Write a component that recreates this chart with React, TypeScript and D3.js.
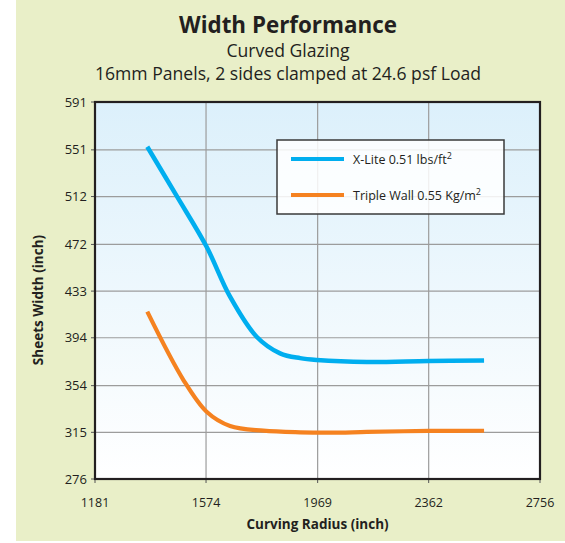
import React, { useEffect, useRef } from "react";
import * as d3 from "d3";

// curving radius (inch)
const xliteRadius = [1366, 1470, 1576, 1659, 1753, 1836, 1907, 1966, 2143, 2361, 2558];
const xliteWidth = [553.6, 512.5, 470, 428.3, 394.9, 381, 377, 375.5, 373.8, 374.6, 375];

const tripleRadius = [1366, 1494, 1576, 1659, 1777, 1907, 2013, 2143, 2361, 2558];
const tripleWidth = [415.8, 358.7, 332.2, 320.3, 316.4, 315, 314.7, 315.3, 316.2, 316.3];

const xTicks = [1181, 1574, 1969, 2362, 2756];
const yTicks = [276, 315, 354, 394, 433, 472, 512, 551, 591];

const W = 565;
const H = 543;
const FONT = "'Open Sans', 'DejaVu Sans', sans-serif";

export default function App() {
  const ref = useRef<SVGSVGElement | null>(null);

  useEffect(() => {
    const svg = d3.select(ref.current);
    svg.selectAll("*").remove();

    const left = 95, right = 540, top = 102, bottom = 479;

    const x = d3.scaleLinear().domain([1181, 2756]).range([left, right]);
    const y = d3.scaleLinear().domain([276, 591]).range([bottom, top]);

    // page background
    svg.append("rect")
      .attr("x", 16).attr("y", 0)
      .attr("width", W - 16).attr("height", 541)
      .attr("fill", "#e9efc8");

    const defs = svg.append("defs");
    const grad = defs.append("linearGradient")
      .attr("id", "plotbg").attr("x1", 0).attr("y1", 0).attr("x2", 0).attr("y2", 1);
    grad.append("stop").attr("offset", "0%").attr("stop-color", "#dcf0fb");
    grad.append("stop").attr("offset", "100%").attr("stop-color", "#ffffff");

    svg.append("rect")
      .attr("x", left).attr("y", top)
      .attr("width", right - left).attr("height", bottom - top)
      .attr("fill", "url(#plotbg)");

    // titles
    const titles = svg.append("g").attr("text-anchor", "middle").attr("fill", "#231f20")
      .style("font-family", FONT);
    titles.append("text").attr("x", 288).attr("y", 33)
      .style("font-size", "22.4px").style("font-weight", "bold").text("Width Performance");
    titles.append("text").attr("x", 288).attr("y", 57)
      .style("font-size", "17.6px").text("Curved Glazing");
    titles.append("text").attr("x", 288).attr("y", 80)
      .style("font-size", "17.6px").text("16mm Panels, 2 sides clamped at 24.6 psf Load");

    // grid
    const grid = svg.append("g").attr("stroke", "#9c9c9c").attr("stroke-width", 1.2);
    yTicks.slice(1, -1).forEach(v => {
      grid.append("line").attr("x1", left).attr("x2", right).attr("y1", y(v)).attr("y2", y(v));
    });
    xTicks.slice(1, -1).forEach(v => {
      grid.append("line").attr("y1", top).attr("y2", bottom).attr("x1", x(v)).attr("x2", x(v));
    });

    // ticks + labels
    const axes = svg.append("g").style("font-family", FONT).attr("fill", "#231f20");
    yTicks.forEach(v => {
      axes.append("line").attr("x1", left - 4).attr("x2", left).attr("y1", y(v)).attr("y2", y(v))
        .attr("stroke", "#555").attr("stroke-width", 1);
      axes.append("text").attr("x", left - 8).attr("y", y(v)).attr("dy", "0.35em")
        .attr("text-anchor", "end").style("font-size", "13px").text(v);
    });
    xTicks.forEach(v => {
      axes.append("line").attr("x1", x(v)).attr("x2", x(v)).attr("y1", bottom).attr("y2", bottom + 4)
        .attr("stroke", "#555").attr("stroke-width", 1);
      axes.append("text").attr("x", x(v)).attr("y", 507)
        .attr("text-anchor", "middle").style("font-size", "12.5px").text(v);
    });
    axes.append("text").attr("x", (left + right) / 2).attr("y", 529)
      .attr("text-anchor", "middle").style("font-size", "13.5px").style("font-weight", "bold")
      .text("Curving Radius (inch)");
    axes.append("text")
      .attr("transform", "translate(43,300) rotate(-90)")
      .attr("text-anchor", "middle").style("font-size", "13.5px").style("font-weight", "bold")
      .text("Sheets Width (inch)");

    // plot frame
    svg.append("rect")
      .attr("x", left).attr("y", top)
      .attr("width", right - left).attr("height", bottom - top)
      .attr("fill", "none").attr("stroke", "#231f20").attr("stroke-width", 2.2);

    const line = d3.line<[number, number]>()
      .x(d => x(d[0]))
      .y(d => y(d[1]))
      .curve(d3.curveCatmullRom.alpha(0.5));

    svg.append("path")
      .attr("d", line(xliteRadius.map((r, i) => [r, xliteWidth[i]] as [number, number])))
      .attr("fill", "none").attr("stroke", "#00aeef").attr("stroke-width", 4.5);

    svg.append("path")
      .attr("d", line(tripleRadius.map((r, i) => [r, tripleWidth[i]] as [number, number])))
      .attr("fill", "none").attr("stroke", "#f58220").attr("stroke-width", 4.2);

    // legend
    const lg = svg.append("g").style("font-family", FONT);
    lg.append("rect")
      .attr("x", 277).attr("y", 140).attr("width", 227).attr("height", 74)
      .attr("fill", "#ffffff").attr("fill-opacity", 0.85)
      .attr("stroke", "#3a3a3a").attr("stroke-width", 1.5);

    const items = [
      { color: "#00aeef", label: "X-Lite 0.51 lbs/ft", y: 159 },
      { color: "#f58220", label: "Triple Wall 0.55 Kg/m", y: 195 },
    ];
    items.forEach(it => {
      lg.append("line").attr("x1", 291).attr("x2", 344).attr("y1", it.y).attr("y2", it.y)
        .attr("stroke", it.color).attr("stroke-width", 4);
      const t = lg.append("text").attr("x", 353).attr("y", it.y + 4.5)
        .attr("fill", "#231f20").style("font-size", "12.5px");
      t.append("tspan").text(it.label);
      t.append("tspan").attr("dy", -5).style("font-size", "9px").text("2");
    });
  }, []);

  return (
    <svg ref={ref} width={W} height={H}
      style={{ position: "absolute", left: 0, top: 0, background: "#ffffff" }} />
  );
}
